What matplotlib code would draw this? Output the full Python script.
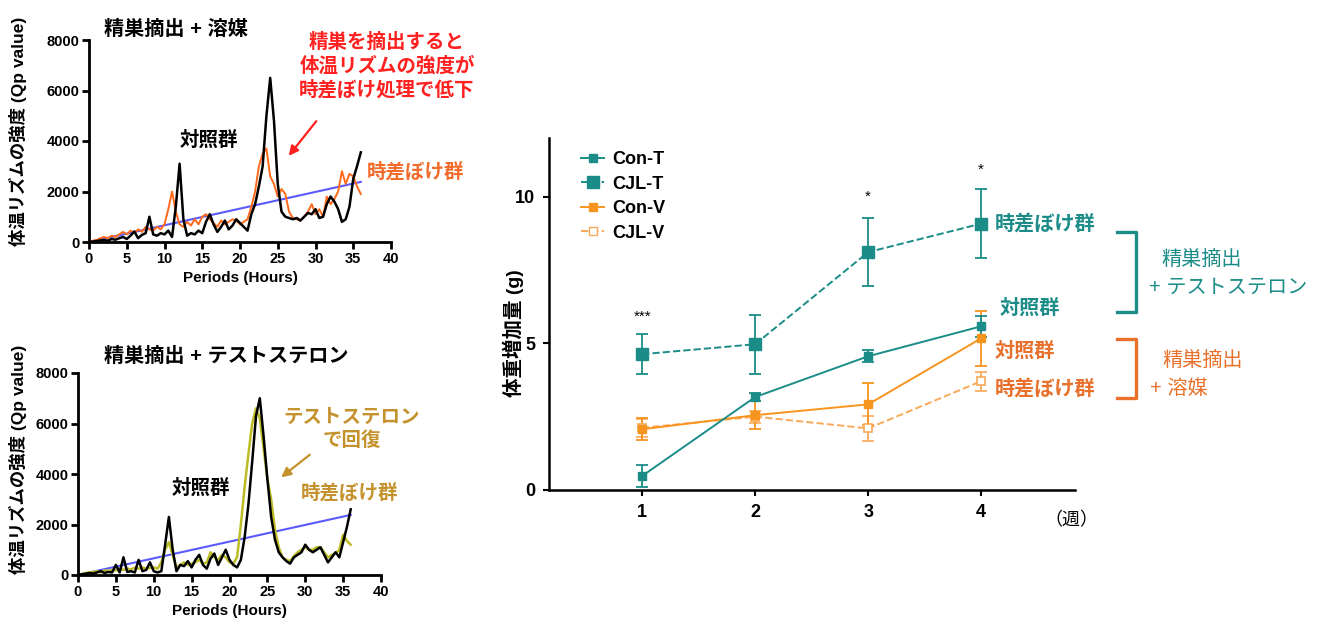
import numpy as np
import matplotlib
matplotlib.use("Agg")
import matplotlib.pyplot as plt
from matplotlib.lines import Line2D
from matplotlib.patches import FancyArrowPatch

plt.rcParams['font.family'] = ['Liberation Sans', 'Noto Sans CJK JP', 'DejaVu Sans']

W, H = 1325, 630

# ---- periodogram data (Qp value), period step 0.5 h from 0 to 36 h ----
periods = np.arange(0, 36.5, 0.5)

veh_con = [0, 20, 40, 60, 80, 50, 120, 90, 150, 200, 120, 250, 420, 150, 280, 350,
           1000, 300, 250, 350, 300, 450, 200, 1400, 3100, 900, 250, 350, 300, 450,
           350, 800, 1100, 700, 400, 600, 850, 500, 650, 900, 750, 600, 450, 1100,
           1500, 2200, 3000, 5000, 6500, 4800, 2300, 1200, 1000, 950, 900, 950, 850,
           1000, 1150, 1100, 1300, 950, 1000, 1500, 1800, 1600, 1300, 800, 900, 1400,
           2500, 3000, 3550]
veh_cjl = [0, 50, 80, 150, 200, 150, 250, 200, 300, 400, 300, 450, 350, 500, 400, 600,
           500, 450, 600, 500, 700, 1300, 2000, 1200, 700, 600, 800, 650, 900, 700,
           1000, 1100, 900, 750, 600, 850, 700, 800, 900, 850, 700, 800, 900, 1400,
           2000, 3000, 3500, 3700, 2600, 2300, 1800, 2100, 1900, 1200, 950, 900, 850,
           1000, 1200, 1500, 1100, 1300, 1000, 1800, 1500, 1700, 2000, 2800, 2300, 2700,
           2600, 2200, 1900]
tes_con = [0, 30, 50, 80, 60, 100, 150, 80, 120, 100, 400, 100, 700, 120, 150, 100,
           600, 150, 200, 500, 150, 100, 150, 1200, 2300, 1000, 150, 400, 350, 550,
           300, 600, 800, 400, 250, 650, 850, 400, 700, 1000, 600, 400, 300, 600,
           1500, 2800, 4500, 6300, 7000, 5500, 3800, 2300, 1400, 900, 700, 550, 450,
           700, 800, 900, 1200, 1000, 900, 1000, 1100, 800, 500, 700, 900, 700,
           1300, 1900, 2600]
tes_cjl = [0, 40, 80, 100, 120, 150, 100, 180, 150, 200, 180, 250, 200, 250, 220, 300,
           250, 300, 250, 280, 300, 250, 500, 1000, 1300, 800, 300, 400, 500, 400,
           450, 500, 600, 450, 500, 900, 700, 600, 800, 700, 500, 450, 700, 2000,
           3500, 4800, 6000, 6600, 6200, 5000, 3800, 3000, 1800, 1100, 700, 600, 550,
           750, 900, 1000, 1100, 1000, 1000, 1100, 1100, 900, 700, 800, 850, 1000,
           1600, 1350, 1200]
# significance threshold line end points
thr_x = [0, 36]
thr_y = [0, 2380]

# ---- body weight gain (g) ----
weeks = [1, 2, 3, 4]
con_t = [0.48, 3.17, 4.56, 5.58]
con_t_err = [0.38, 0.15, 0.2, 0.35]
cjl_t = [4.63, 4.97, 8.11, 9.08]
cjl_t_err = [0.68, 1.0, 1.15, 1.17]
con_v = [2.07, 2.55, 2.92, 5.17]
con_v_err = [0.38, 0.47, 0.72, 0.93]
cjl_v = [2.12, 2.5, 2.1, 3.71]
cjl_v_err = [0.3, 0.2, 0.42, 0.32]
sig_x = [1, 3, 4]
sig_y = [5.9, 10.0, 10.9]
sig_txt = ['***', '*', '*']

TEAL = '#1b8c88'
ORANGE = '#f7941d'
LORANGE = '#f8a95a'
RED = '#ff2020'
CURVE_OR = '#ff6a1a'
OLIVE = '#bcbc26'
GOLD = '#c4922c'
BLUE = '#5a5aff'
ANN_OR = '#e8702a'


def fx(x):
    return x / W


def fy(y):
    return 1 - y / H


fig = plt.figure(figsize=(W / 100, H / 100), dpi=100)


def period_axes(rect):
    ax = fig.add_axes(rect)
    for s in ['top', 'right']:
        ax.spines[s].set_visible(False)
    for s in ['left', 'bottom']:
        ax.spines[s].set_linewidth(2)
    ax.set_xlim(0, 40)
    ax.set_ylim(0, 8000)
    ax.set_xticks(range(0, 41, 5))
    ax.set_yticks(range(0, 8001, 2000))
    ax.tick_params(width=2, length=5, labelsize=10.5, pad=2)
    for lab in ax.get_xticklabels() + ax.get_yticklabels():
        lab.set_fontweight('bold')
    ax.set_xlabel('Periods (Hours)', fontsize=11, fontweight='bold', labelpad=4)
    return ax


# top-left: vehicle
ax1 = period_axes([fx(89), fy(242), fx(391) - fx(89), fy(40) - fy(242)])
ax1.plot(thr_x, thr_y, color=BLUE, lw=1.5)
ax1.plot(periods, veh_cjl, color=CURVE_OR, lw=1.4)
ax1.plot(periods, veh_con, color='black', lw=1.8)

# bottom-left: testosterone
ax2 = period_axes([fx(78), fy(575), fx(381) - fx(78), fy(373) - fy(575)])
ax2.plot(thr_x, thr_y, color=BLUE, lw=1.5)
ax2.plot(periods, tes_cjl, color=OLIVE, lw=1.8)
ax2.plot(periods, tes_con, color='black', lw=1.8)

ylab = '体温リズムの強度 (Qp value)'
fig.text(fx(18), fy(131), ylab, rotation=90, ha='center', va='center', fontsize=12.5, fontweight='bold')
fig.text(fx(18), fy(459), ylab, rotation=90, ha='center', va='center', fontsize=12.5, fontweight='bold')

fig.text(fx(104), fy(29), '精巣摘出 + 溶媒', ha='left', va='center', fontsize=14.5, fontweight='bold')
fig.text(fx(387), fy(66), '精巣を摘出すると\n体温リズムの強度が\n時差ぼけ処理で低下', ha='center', va='center',
         fontsize=14, fontweight='bold', color=RED, linespacing=1.3)
fig.add_artist(FancyArrowPatch((fx(318), fy(119)), (fx(287), fy(158)),
                               transform=fig.transFigure, arrowstyle='-|>',
                               mutation_scale=14, color=RED, lw=1.6))
fig.text(fx(180), fy(140), '対照群', ha='left', va='center', fontsize=14, fontweight='bold')
fig.text(fx(367), fy(172), '時差ぼけ群', ha='left', va='center', fontsize=14, fontweight='bold', color='#f26b2a')

fig.text(fx(104), fy(356), '精巣摘出 + テストステロン', ha='left', va='center', fontsize=14.5, fontweight='bold')
fig.text(fx(352), fy(430), 'テストステロン\nで回復', ha='center', va='center', fontsize=14, fontweight='bold',
         color=GOLD, linespacing=1.3)
fig.add_artist(FancyArrowPatch((fx(312), fy(453)), (fx(279), fy(479)),
                               transform=fig.transFigure, arrowstyle='-|>',
                               mutation_scale=14, color=GOLD, lw=1.6))
fig.text(fx(172), fy(488), '対照群', ha='left', va='center', fontsize=14, fontweight='bold')
fig.text(fx(301), fy(493), '時差ぼけ群', ha='left', va='center', fontsize=14, fontweight='bold', color=GOLD)

# right: body weight gain
ax3 = fig.add_axes([fx(549), fy(490), fx(1075) - fx(549), fy(138) - fy(490)])
for s in ['top', 'right']:
    ax3.spines[s].set_visible(False)
for s in ['left', 'bottom']:
    ax3.spines[s].set_linewidth(1.8)
ax3.set_xlim(0.175, 4.83)
ax3.set_ylim(0, 12)
ax3.set_xticks(weeks)
ax3.set_yticks([0, 5, 10])
ax3.tick_params(width=1.5, length=4, labelsize=13, pad=6)
for lab in ax3.get_xticklabels() + ax3.get_yticklabels():
    lab.set_fontweight('bold')

eb = dict(capsize=4.5, elinewidth=1.3, capthick=1.3)
ax3.errorbar(weeks, cjl_v, yerr=cjl_v_err, color=LORANGE, ls='--', lw=1.4, marker='s', ms=6,
             mfc='white', mec=LORANGE, mew=1.2, **eb)
ax3.errorbar(weeks, con_v, yerr=con_v_err, color=ORANGE, ls='-', lw=1.4, marker='s', ms=6, **eb)
ax3.errorbar(weeks, con_t, yerr=con_t_err, color=TEAL, ls='-', lw=1.4, marker='s', ms=6, **eb)
ax3.errorbar(weeks, cjl_t, yerr=cjl_t_err, color=TEAL, ls='--', lw=1.4, marker='s', ms=8, **eb)
for x, y, t in zip(sig_x, sig_y, sig_txt):
    ax3.text(x, y, t, ha='center', va='center', fontsize=11)

handles = [
    Line2D([], [], color=TEAL, ls='-', lw=1.4, marker='s', ms=6),
    Line2D([], [], color=TEAL, ls='--', lw=1.4, marker='s', ms=8),
    Line2D([], [], color=ORANGE, ls='-', lw=1.4, marker='s', ms=6),
    Line2D([], [], color=LORANGE, ls='--', lw=1.4, marker='s', ms=6, mfc='white', mec=LORANGE),
]
labels = ['Con-T', 'CJL-T', 'Con-V', 'CJL-V']
leg = ax3.legend(handles, labels, loc='upper left',
                 bbox_to_anchor=(fx(581), fy(151)), bbox_transform=fig.transFigure,
                 frameon=False, fontsize=13, handlelength=1.3, handletextpad=0.45,
                 labelspacing=0.42, borderaxespad=0, borderpad=0)
for t in leg.get_texts():
    t.set_fontweight('bold')

fig.text(fx(513), fy(333), '体重増加量 (g)', rotation=90, ha='center', va='center', fontsize=14, fontweight='bold')
fig.text(fx(1071), fy(521), '（週）', ha='center', va='center', fontsize=13)

fig.text(fx(995), fy(224), '時差ぼけ群', ha='left', va='center', fontsize=14.5, fontweight='bold', color=TEAL)
fig.text(fx(1000), fy(308), '対照群', ha='left', va='center', fontsize=14.5, fontweight='bold', color=TEAL)
fig.text(fx(995), fy(351), '対照群', ha='left', va='center', fontsize=14.5, fontweight='bold', color=ANN_OR)
fig.text(fx(995), fy(389), '時差ぼけ群', ha='left', va='center', fontsize=14.5, fontweight='bold', color=ANN_OR)


def bracket(y0, y1, color):
    xs = [fx(1117), fx(1136), fx(1136), fx(1117)]
    ys = [fy(y0), fy(y0), fy(y1), fy(y1)]
    fig.add_artist(Line2D(xs, ys, color=color, lw=2.4, solid_joinstyle='round',
                          transform=fig.transFigure))


bracket(232, 312, TEAL)
bracket(339, 398, ANN_OR)
fig.text(fx(1202), fy(260), '精巣摘出', ha='center', va='center', fontsize=14.5, color=TEAL)
fig.text(fx(1228), fy(287), '+ テストステロン', ha='center', va='center', fontsize=14.5, color=TEAL)
fig.text(fx(1203), fy(361), '精巣摘出', ha='center', va='center', fontsize=14.5, color=ANN_OR)
fig.text(fx(1150), fy(388), '+ 溶媒', ha='left', va='center', fontsize=14.5, color=ANN_OR)

fig.savefig('out.png', dpi=100)
